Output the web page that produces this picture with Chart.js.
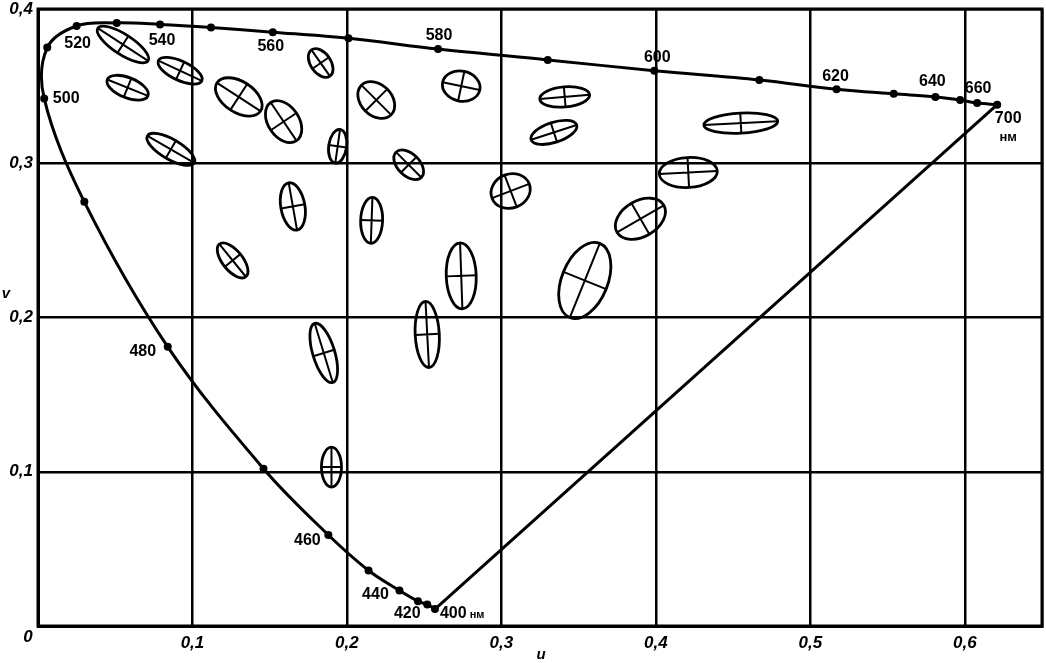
<!DOCTYPE html>
<html>
<head>
<meta charset="utf-8">
<script src="https://cdn.jsdelivr.net/npm/chart.js@4"></script>
<style>
  html, body { margin: 0; padding: 0; background: #fff; }
  #wrap { width: 1046px; height: 663px; }
</style>
</head>
<body>
<div id="wrap"><canvas id="grafico" width="1046" height="663"></canvas></div>
<script>
// spectral locus (CIE 1960 u, v), wavelengths in nm
const comprimento = [400, 420, 430, 440, 450, 460, 470, 480, 490, 500, 510, 520, 530, 540, 550, 560, 570, 580, 590, 600, 610, 620, 630, 640, 650, 660, 700];
const locusU = [0.257, 0.252, 0.246, 0.234, 0.214, 0.188, 0.146, 0.084, 0.030, 0.004, 0.006, 0.025, 0.051, 0.079, 0.112, 0.152, 0.201, 0.259, 0.330, 0.399, 0.467, 0.517, 0.554, 0.581, 0.597, 0.608, 0.621];
const locusV = [0.011, 0.014, 0.016, 0.023, 0.036, 0.059, 0.102, 0.181, 0.275, 0.342, 0.375, 0.389, 0.391, 0.390, 0.388, 0.385, 0.381, 0.374, 0.367, 0.360, 0.354, 0.348, 0.345, 0.343, 0.341, 0.339, 0.338];
const rotulos = ['400', '420', '', '440', '', '460', '', '480', '', '500', '', '520', '', '540', '', '560', '', '580', '', '600', '', '620', '', '640', '', '660', '700'];

// MacAdam ellipses: centre, semi-axes and angle of major axis (deg)
const elipseU = [0.055, 0.092, 0.058, 0.086, 0.130, 0.159, 0.183, 0.194, 0.165, 0.126, 0.185, 0.190, 0.219, 0.274, 0.240, 0.341, 0.334, 0.306, 0.421, 0.390, 0.455, 0.216, 0.274, 0.252, 0.354];
const elipseV = [0.377, 0.360, 0.349, 0.309, 0.343, 0.327, 0.365, 0.311, 0.272, 0.237, 0.177, 0.103, 0.341, 0.350, 0.299, 0.343, 0.320, 0.282, 0.294, 0.264, 0.326, 0.263, 0.227, 0.189, 0.224];
const semiMaior = [0.0194, 0.0155, 0.0142, 0.0175, 0.0168, 0.0149, 0.0104, 0.0110, 0.0155, 0.0136, 0.0200, 0.0129, 0.0136, 0.0123, 0.0116, 0.0162, 0.0155, 0.0129, 0.0188, 0.0175, 0.0239, 0.0149, 0.0214, 0.0214, 0.0259];
const semiMenor = [0.0065, 0.0062, 0.0065, 0.0065, 0.0100, 0.0100, 0.0065, 0.0058, 0.0078, 0.0065, 0.0071, 0.0065, 0.0100, 0.0097, 0.0071, 0.0065, 0.0065, 0.0110, 0.0097, 0.0116, 0.0065, 0.0071, 0.0097, 0.0078, 0.0149];
const angulo = [-33, -25, -22, -30, -33, -56, -55, 82, -80, -51, -73, 90, -45, -12, -45, 5, 18, 21, 3, 30, 3, 88, -88, -87, 68];

const eixoX = [0, 0.1, 0.2, 0.3, 0.4, 0.5, 0.6];
const eixoY = [0, 0.1, 0.2, 0.3, 0.4];

// label offsets in px from the dot (centre of text)
const deslocX = {400: 5, 420: -20, 440: -24, 460: -21, 480: -25, 500: 22, 520: 1, 540: 2, 560: -2, 580: 1, 600: 3, 620: -1, 640: -3, 660: 1, 700: 11};
const deslocY = {400: 5, 420: 9, 440: 4, 460: 6, 480: 5, 500: 0, 520: 18, 540: 16, 560: 14, 580: -14, 600: -13, 620: -13, 640: -15, 660: -14, 700: 14};

const fmt = v => v.toFixed(1).replace('.', ',');

const pontos = locusU.map((u, i) => ({ x: u, y: locusV[i] }));
const ultimo = pontos.length - 1;

const elipses = {
    id: 'elipses',
    afterDatasetsDraw(chart) {
        const ctx = chart.ctx;
        const xs = chart.scales.x, ys = chart.scales.y;
        ctx.save();
        ctx.strokeStyle = '#000';
        for (let i = 0; i < elipseU.length; i++) {
            const cx = xs.getPixelForValue(elipseU[i]);
            const cy = ys.getPixelForValue(elipseV[i]);
            const a = xs.getPixelForValue(elipseU[i] + semiMaior[i]) - cx;
            const b = xs.getPixelForValue(elipseU[i] + semiMenor[i]) - cx;
            const t = -angulo[i] * Math.PI / 180;
            ctx.lineWidth = 2.8;
            ctx.beginPath();
            ctx.ellipse(cx, cy, a, b, t, 0, 2 * Math.PI);
            ctx.stroke();
            ctx.lineWidth = 2;
            const c = Math.cos(t), s = Math.sin(t);
            ctx.beginPath();
            ctx.moveTo(cx - a * c, cy - a * s);
            ctx.lineTo(cx + a * c, cy + a * s);
            ctx.moveTo(cx + b * s, cy - b * c);
            ctx.lineTo(cx - b * s, cy + b * c);
            ctx.stroke();
        }
        ctx.restore();
    }
};

const textos = {
    id: 'textos',
    afterDraw(chart) {
        const ctx = chart.ctx;
        const xs = chart.scales.x, ys = chart.scales.y;
        const area = chart.chartArea;
        const fonte = 'bold 16px "Liberation Sans", Arial, sans-serif';
        ctx.save();
        ctx.fillStyle = '#000';
        ctx.textBaseline = 'middle';
        ctx.textAlign = 'center';
        ctx.font = fonte;
        comprimento.forEach((nm, i) => {
            if (!rotulos[i]) return;
            const px = xs.getPixelForValue(locusU[i]) + deslocX[nm];
            const py = ys.getPixelForValue(locusV[i]) + deslocY[nm];
            if (nm === 400) {
                ctx.textAlign = 'left';
                ctx.fillText(rotulos[i], px, py);
                const w = ctx.measureText(rotulos[i]).width;
                ctx.font = 'bold 11px "Liberation Sans", Arial, sans-serif';
                ctx.fillText('нм', px + w + 3, py + 1);
                ctx.font = fonte;
                ctx.textAlign = 'center';
            } else if (nm === 700) {
                ctx.fillText(rotulos[i], px, py);
                ctx.font = 'bold 13px "Liberation Sans", Arial, sans-serif';
                ctx.fillText('нм', px, py + 19);
                ctx.font = fonte;
            } else {
                ctx.fillText(rotulos[i], px, py);
            }
        });
        // origin label and axis titles
        ctx.font = 'italic bold 17px "Liberation Sans", Arial, sans-serif';
        ctx.fillText('0', area.left - 10, area.bottom + 11);
        ctx.font = 'italic bold 15px "Liberation Sans", Arial, sans-serif';
        ctx.fillText('u', 541, 655);
        ctx.fillText('v', 6, 294);
        // frame
        ctx.strokeStyle = '#000';
        ctx.lineWidth = 3;
        ctx.strokeRect(area.left, area.top, area.right - area.left, area.bottom - area.top);
        ctx.restore();
    }
};

const ctx = document.getElementById('grafico').getContext('2d');
new Chart(ctx, {
    type: 'scatter',
    data: {
        datasets: [{
            label: 'locus',
            data: pontos,
            showLine: true,
            borderColor: '#000',
            borderWidth: 3,
            tension: 0.35,
            pointRadius: 4,
            pointBackgroundColor: '#000',
            pointBorderColor: '#000',
            pointBorderWidth: 0
        }, {
            label: 'purpura',
            data: [pontos[ultimo], pontos[0]],
            showLine: true,
            borderColor: '#000',
            borderWidth: 3,
            pointRadius: 0
        }]
    },
    options: {
        responsive: false,
        animation: false,
        layout: { padding: { top: 9, right: 4, left: 0, bottom: 0 } },
        plugins: { legend: { display: false }, tooltip: { enabled: false } },
        scales: {
            x: {
                type: 'linear',
                min: 0,
                max: 0.65,
                afterFit: s => { s.height = 37; s.paddingLeft = 0; s.paddingRight = 0; },
                afterBuildTicks: s => { s.ticks = eixoX.concat([0.65]).map(v => ({ value: v })); },
                grid: { color: '#000', lineWidth: 2.5, drawTicks: false },
                border: { color: '#000', width: 3 },
                ticks: {
                    padding: 7,
                    color: '#000',
                    font: { family: '"Liberation Sans", Arial, sans-serif', size: 17, style: 'italic', weight: 'bold' },
                    callback: v => (v === 0 || v > 0.61) ? '' : fmt(v)
                }
            },
            y: {
                type: 'linear',
                min: 0,
                max: 0.4,
                afterFit: s => { s.width = 38; s.paddingTop = 0; s.paddingBottom = 0; },
                afterBuildTicks: s => { s.ticks = eixoY.map(v => ({ value: v })); },
                grid: { color: '#000', lineWidth: 2.5, drawTicks: false },
                border: { color: '#000', width: 3 },
                ticks: {
                    padding: 5,
                    color: '#000',
                    font: { family: '"Liberation Sans", Arial, sans-serif', size: 17, style: 'italic', weight: 'bold' },
                    callback: v => v === 0 ? '' : fmt(v)
                }
            }
        }
    },
    plugins: [elipses, textos]
});
</script>
</body>
</html>
